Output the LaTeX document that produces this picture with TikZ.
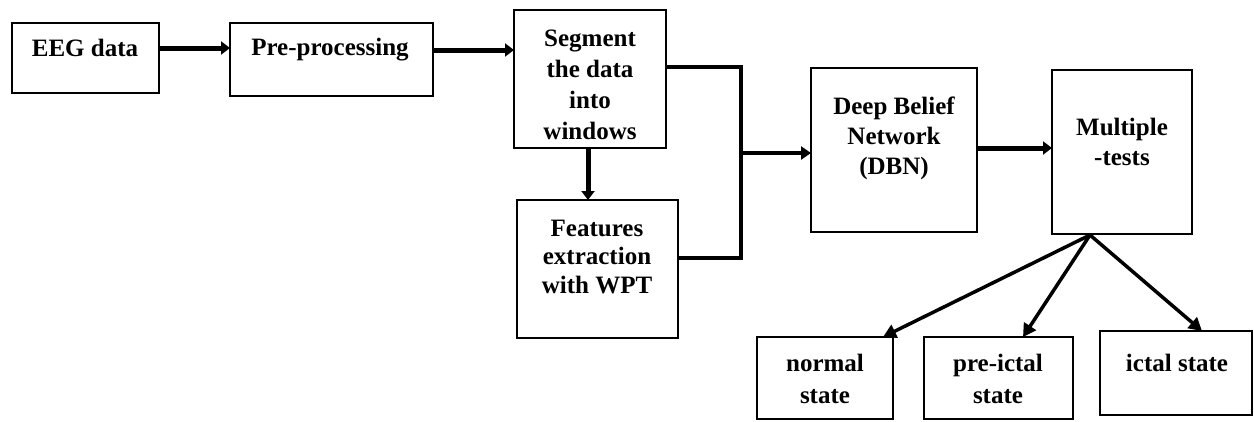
\documentclass[tikz,border=0pt]{standalone}
\usepackage{fontspec}
\setmainfont{Liberation Serif}
\usetikzlibrary{arrows.meta}
\tikzset{
  box/.style={draw=black, line width=2pt, inner sep=0pt, outer sep=0pt, fill=white},
  lbl/.style={font=\fontsize{25pt}{#1}\selectfont\bfseries, align=center, inner sep=0pt},
  lbl/.default=31pt,
  flow/.style={line width=5pt, -{Triangle[length=9pt,width=13pt]}},
  mergeline/.style={line width=4pt},
  split/.style={line width=3.5pt, -{Triangle[length=13pt,width=14pt]}},
}
\begin{document}
\begin{tikzpicture}[x=1pt, y=-1pt]
  \useasboundingbox (0,0) rectangle (1254,421);

  % boxes
  \node[box, minimum width=147pt, minimum height=70pt]  (eeg)  at (85.5,58) {};
  \node[box, minimum width=203pt, minimum height=73pt]  (pre)  at (331.5,59.5) {};
  \node[box, minimum width=152pt, minimum height=138pt] (seg)  at (590,79) {};
  \node[box, minimum width=161pt, minimum height=138pt] (feat) at (597.5,269) {};
  \node[box, minimum width=166pt, minimum height=164pt] (dbn)  at (894,150) {};
  \node[box, minimum width=140pt, minimum height=164pt] (mult) at (1122,152) {};
  \node[box, minimum width=136pt, minimum height=82pt]  (norm) at (825,378) {};
  \node[box, minimum width=149pt, minimum height=82pt]  (prei) at (998.5,378) {};
  \node[box, minimum width=152pt, minimum height=84pt]  (ict)  at (1176,373) {};

  % labels
  \node[lbl] (teeg)  at (85,48)     {EEG data};
  \node[lbl] (tpre)  at (330,50)    {Pre-processing};
  \node[lbl=31pt]   (tseg)  at (590,84.5)  {Segment\\the data\\into\\windows};
  \node[lbl=28.5pt] (tfeat) at (597,256.5) {Features\\extraction\\with WPT};
  \node[lbl=30pt]   (tdbn)  at (894,138)   {Deep Belief\\Network\\(DBN)};
  \node[lbl=30pt]   (tmult) at (1122,142)  {Multiple\\-tests};
  \node[lbl=32pt]   (tnorm) at (825,379)   {normal\\state};
  \node[lbl=32pt]   (tprei) at (998,379)   {pre-ictal\\state};
  \node[lbl]        (tict)  at (1177,363)  {ictal state};

  % junction points of the merge line
  \coordinate (jtop) at (741,67);
  \coordinate (jmid) at (741,153);
  \coordinate (jbot) at (741,258);
  \coordinate (fork) at (1090,235);

  % connectors
  \draw[flow] (eeg.east |- teeg) -- (pre.west |- teeg);
  \draw[flow] (pre.east |- tpre) -- (seg.west |- tpre);
  \draw[flow] (seg.south -| 588,0) -- (feat.north -| 588,0);
  \draw[mergeline, line join=miter] (seg.east |- jtop) -- (jtop) -- (jbot) -- (feat.east |- jbot);
  \draw[mergeline, -{Triangle[length=10pt,width=13pt]}] (jmid) -- (dbn.west |- jmid);
  \draw[flow] (dbn.east |- 0,148) -- (mult.west |- 0,148);
  \draw[split] (fork) -- (norm.north -| 883,0);
  \draw[split] (fork) -- (prei.north -| 1023,0);
  \draw[split] (fork) -- (ict.north -| 1202,0);
\end{tikzpicture}
\end{document}
